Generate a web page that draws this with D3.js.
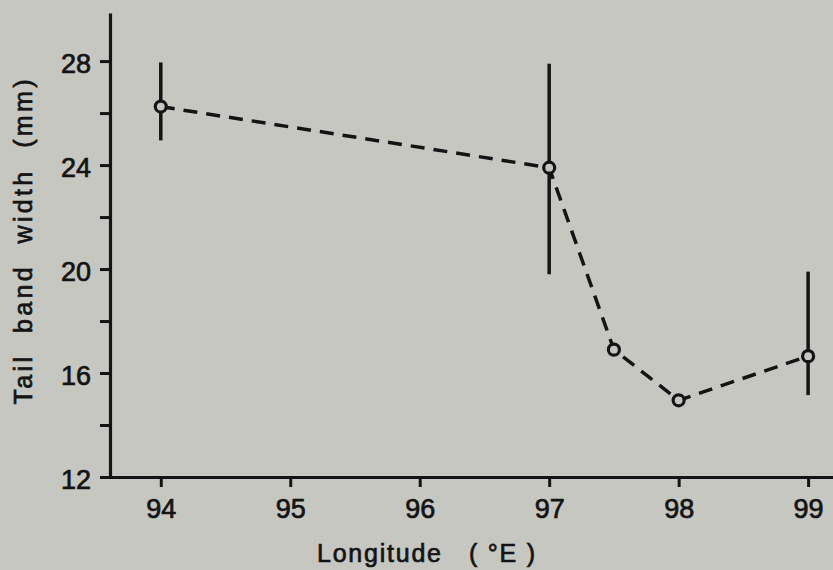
<!DOCTYPE html>
<html>
<head>
<meta charset="utf-8">
<script src="https://cdn.jsdelivr.net/npm/d3@7"></script>
<style>
  html, body { margin: 0; padding: 0; background: #c7c7c2; }
  svg { display: block; }
  text { font-family: "Liberation Sans", Arial, sans-serif; fill: #141414; stroke: #141414; stroke-width: 0.7px; }
</style>
</head>
<body>
<svg id="chart" width="833" height="570"></svg>
<script>
// longitude (°E) of each sample group
const longitudes = [94, 97, 97.5, 98, 99];
// mean tail band width (mm)
const means = [26.25, 23.9, 16.9, 14.95, 16.65];
// range bars, null where no bar is drawn
const lows = [24.95, 19.8, null, null, 15.15];
const highs = [27.95, 27.9, null, null, 19.9];

const xTicks = [94, 95, 96, 97, 98, 99];
const yTicks = [12, 14, 16, 18, 20, 22, 24, 26, 28];
const yLabelled = [12, 16, 20, 24, 28];

const ink = "#141414";
const bg = "#c7c7c2";
const svg = d3.select("#chart");

// scales: axis lines run a bit past the last ticks, like the original
const x = d3.scaleLinear().domain([93.6, 99.2]).range([109, 834]);
const y = d3.scaleLinear().domain([12, 29.85]).range([477, 13]);

// y axis
const yAxis = svg.append("g")
  .attr("transform", "translate(110,0)")
  .call(d3.axisLeft(y)
    .tickValues(yTicks)
    .tickSize(10)
    .tickSizeOuter(0)
    .tickPadding(9)
    .tickFormat(d => yLabelled.includes(d) ? d : ""));

// x axis
const xAxis = svg.append("g")
  .attr("transform", "translate(0,477)")
  .call(d3.axisBottom(x)
    .tickValues(xTicks)
    .tickSize(10)
    .tickSizeOuter(0)
    .tickPadding(12)
    .tickFormat(d3.format("d")));

[yAxis, xAxis].forEach(g => {
  g.select(".domain").attr("stroke", ink).attr("stroke-width", 3.2);
  g.selectAll(".tick line").attr("stroke", ink).attr("stroke-width", 3);
  g.selectAll(".tick text").style("font-size", "27px").attr("fill", ink);
});
yAxis.selectAll(".tick text").attr("dy", "0.44em");

// axis titles
svg.append("text")
  .attr("transform", "translate(32,242) rotate(-90)")
  .attr("text-anchor", "middle")
  .attr("textLength", 325)
  .attr("lengthAdjust", "spacing")
  .style("font-size", "25px")
  .style("white-space", "pre")
  .text("Tail  band  width  (mm)");

svg.append("text")
  .attr("x", 426)
  .attr("y", 562)
  .attr("text-anchor", "middle")
  .attr("textLength", 218)
  .attr("lengthAdjust", "spacing")
  .style("font-size", "25px")
  .style("white-space", "pre")
  .text("Longitude   ( °E )");

const pts = longitudes.map((lon, i) => ({ lon, mean: means[i], lo: lows[i], hi: highs[i] }));

// range bars
svg.selectAll("line.bar")
  .data(pts.filter(d => d.lo !== null))
  .join("line")
  .attr("class", "bar")
  .attr("x1", d => x(d.lon))
  .attr("x2", d => x(d.lon))
  .attr("y1", d => y(d.hi))
  .attr("y2", d => y(d.lo))
  .attr("stroke", ink)
  .attr("stroke-width", 3.5);

// dashed line through the means
svg.append("path")
  .datum(pts)
  .attr("d", d3.line().x(d => x(d.lon)).y(d => y(d.mean)))
  .attr("fill", "none")
  .attr("stroke", ink)
  .attr("stroke-width", 3.5)
  .attr("stroke-dasharray", "14,9");

// open circles
svg.selectAll("circle")
  .data(pts)
  .join("circle")
  .attr("cx", d => x(d.lon))
  .attr("cy", d => y(d.mean))
  .attr("r", 5.5)
  .attr("fill", bg)
  .attr("stroke", ink)
  .attr("stroke-width", 3.2);
</script>
</body>
</html>
